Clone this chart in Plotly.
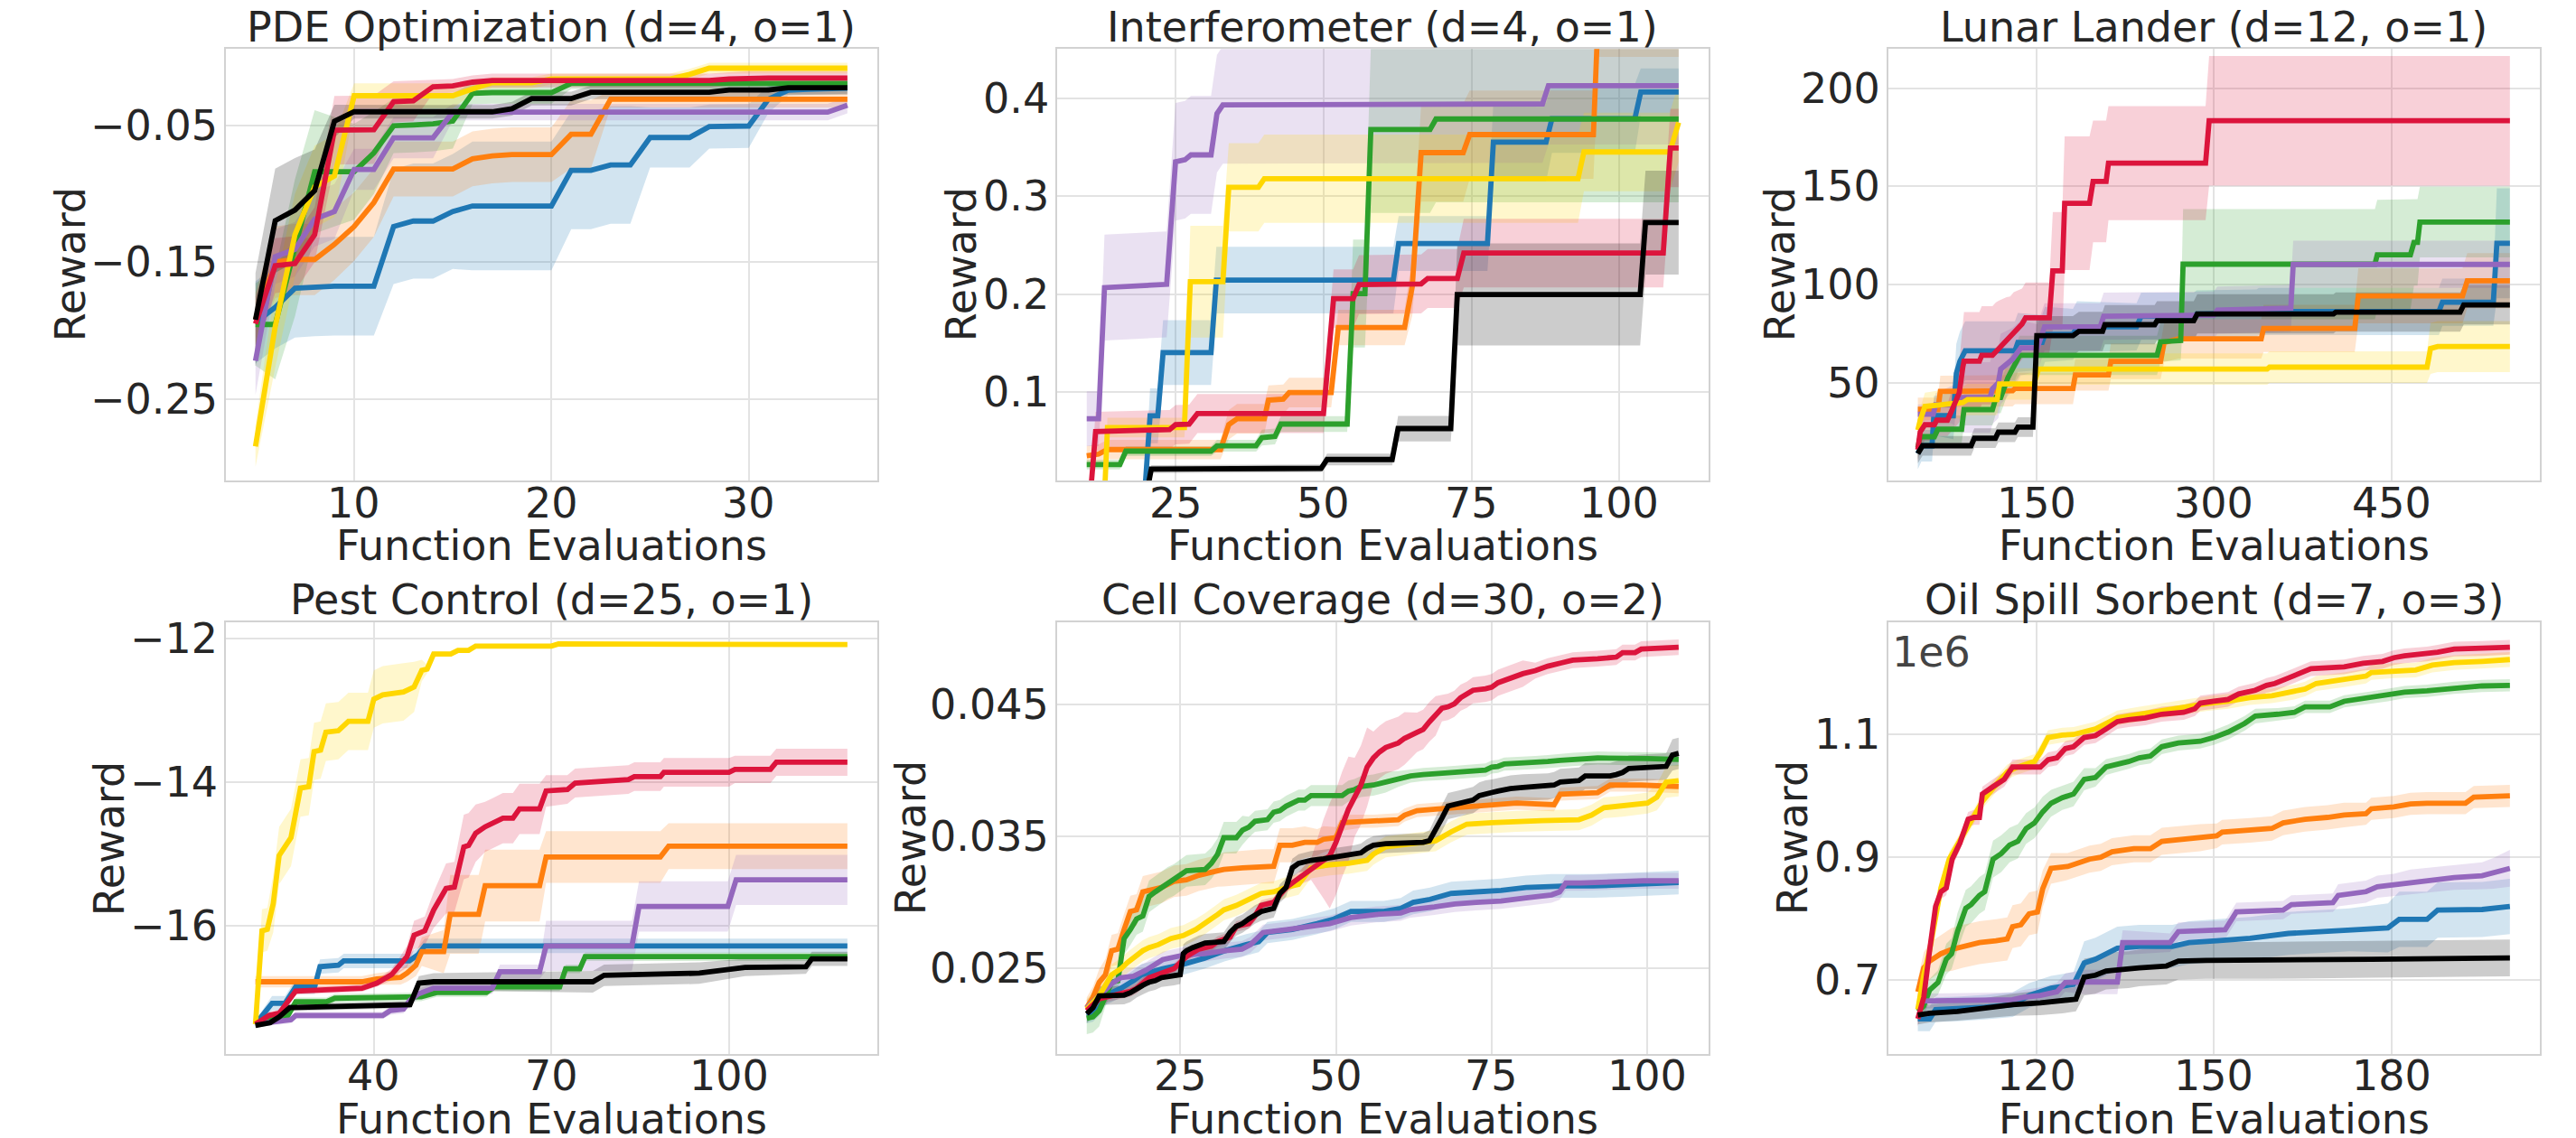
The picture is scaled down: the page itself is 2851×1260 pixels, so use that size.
import plotly.graph_objects as go

W, H = 2851, 1260
FONT = "DejaVu Sans"
TXT = "#262626"
FS = 46

COLORS = {
    "blue": "#1f77b4", "orange": "#ff7f0e", "green": "#2ca02c", "purple": "#9467bd",
    "yellow": "#FFD700", "red": "#DC143C", "black": "#000000",
}
ORDER = ["blue", "orange", "green", "purple", "yellow", "red", "black"]

TITLES = ["PDE Optimization (d=4, o=1)", "Interferometer (d=4, o=1)", "Lunar Lander (d=12, o=1)",
          "Pest Control (d=25, o=1)", "Cell Coverage (d=30, o=2)", "Oil Spill Sorbent (d=7, o=3)"]
XLABEL = "Function Evaluations"
YLABEL = "Reward"

# ---------------- PDE Optimization (x = 5..35) ----------------
PDE_X = list(range(5, 36))
PDE_BLUE = [-0.194, -0.183, -0.169, -0.168, -0.1675, -0.1675, -0.1675, -0.124, -0.120, -0.120, -0.113,
            -0.109, -0.109, -0.109, -0.109, -0.109, -0.083, -0.083, -0.079, -0.079, -0.059, -0.059,
            -0.059, -0.051, -0.051, -0.0506, -0.031, -0.0244, -0.0238, -0.0235, -0.023]
PDE_BLUE_ERR = [0.03, 0.03, 0.036, 0.036, 0.036, 0.036, 0.036, 0.042, 0.042, 0.042, 0.042, 0.047, 0.047,
                0.047, 0.047, 0.047, 0.043, 0.043, 0.043, 0.043, 0.022, 0.022, 0.022, 0.016, 0.016, 0.016,
                0.01, 0.004, 0.004, 0.004, 0.004]
PDE_ORANGE = [-0.192, -0.150, -0.148, -0.148, -0.137, -0.124, -0.1065, -0.082, -0.082, -0.082, -0.082,
              -0.0746, -0.0725, -0.0715, -0.0715, -0.0715, -0.0566, -0.0566] + [-0.031] * 13
PDE_ORANGE_ERR = [0.02, 0.026, 0.026, 0.026, 0.026, 0.025, 0.025, 0.02, 0.02, 0.02, 0.02, 0.02, 0.02,
                  0.02, 0.02, 0.02, 0.025, 0.025] + [0.006] * 13
PDE_GREEN = [-0.1955, -0.1955, -0.1395, -0.084, -0.084, -0.084, -0.0702, -0.0504, -0.0498, -0.049, -0.047,
             -0.0267, -0.0262, -0.0262, -0.0262, -0.0262] + [-0.0195] * 15
PDE_GREEN_ERR = [0.03, 0.04, 0.05, 0.045, 0.04, 0.035, 0.03, 0.02, 0.02, 0.02, 0.02, 0.008, 0.008, 0.008,
                 0.008, 0.008] + [0.004] * 15
PDE_PURPLE = [-0.222, -0.146, -0.1406, -0.1186, -0.113, -0.0823, -0.0823, -0.0592, -0.0592, -0.0592] \
    + [-0.0405] * 20 + [-0.0354]
PDE_PURPLE_ERR = [0.025, 0.02, 0.02, 0.02, 0.02, 0.015, 0.015, 0.015, 0.015, 0.015] + [0.006] * 21
PDE_YELLOW = [-0.2845, -0.197, -0.13, -0.095, -0.087, -0.0285, -0.0285, -0.0285, -0.0285, -0.0285, -0.0285,
              -0.0235, -0.019, -0.019, -0.019] + [-0.0163] * 7 + [-0.0129] + [-0.0084] * 8
PDE_YELLOW_ERR = [0.015, 0.03, 0.03, 0.03, 0.03] + [0.009] * 6 + [0.004] * 20
PDE_RED = [-0.195, -0.1526, -0.151, -0.13, -0.0537, -0.0533, -0.0533, -0.0329, -0.0322, -0.0219, -0.0213,
           -0.0186] + [-0.0174] * 12 + [-0.0163] + [-0.0155] * 6
PDE_RED_ERR = [0.02, 0.02, 0.02, 0.02, 0.025, 0.025, 0.025, 0.015, 0.015] + [0.005] * 22
PDE_BLACK = [-0.192, -0.1197, -0.112, -0.0977, -0.0471] + [-0.0402] * 8 + [-0.038] + [-0.0306] * 3 \
    + [-0.026] * 7 + [-0.0243] * 3 + [-0.0227] * 4
PDE_BLACK_ERR = [0.034, 0.038, 0.038, 0.03, 0.012] + [0.005] * 26

# ---------------- Interferometer: (x, mean, err) ----------------
INT_BLUE = [(10, -0.02, 0.003), (19.6, -0.02, 0.003), (20.7, 0.076, 0.028), (22, 0.076, 0.028),
            (22.9, 0.1404, 0.033), (31, 0.1404, 0.033), (31.9, 0.2144, 0.034), (61.8, 0.2144, 0.034),
            (62.7, 0.2517, 0.028), (77.7, 0.2517, 0.028), (78.7, 0.355, 0.04), (87.6, 0.355, 0.04),
            (88.6, 0.379, 0.035), (102.6, 0.379, 0.035), (103.6, 0.4061, 0.024), (110, 0.4061, 0.024)]
INT_ORANGE = [(10, 0.0352, 0.01), (12, 0.037, 0.01), (13.5, 0.0416, 0.01), (32.6, 0.0416, 0.01),
              (34, 0.067, 0.015), (35.4, 0.073, 0.015), (40, 0.073, 0.015), (40.7, 0.092, 0.015),
              (43.2, 0.093, 0.015), (44.2, 0.0997, 0.015), (51.3, 0.0997, 0.015), (52.5, 0.166, 0.018),
              (63.7, 0.166, 0.018), (65, 0.208, 0.03), (66.5, 0.3443, 0.05), (73.6, 0.3443, 0.05),
              (74.7, 0.3627, 0.045), (95.6, 0.3627, 0.045), (96.5, 0.5, 0.058), (110, 0.5, 0.058)]
INT_GREEN = [(10, 0.0263, 0.005), (15.6, 0.0263, 0.005), (16.6, 0.04, 0.005), (31, 0.04, 0.005),
             (32, 0.0455, 0.006), (38.6, 0.0455, 0.006), (39.6, 0.0538, 0.008), (41.8, 0.055, 0.008),
             (42.8, 0.0676, 0.008), (54, 0.0676, 0.008), (55, 0.2006, 0.055), (57, 0.2006, 0.055),
             (58, 0.3679, 0.085), (68, 0.3679, 0.085), (69, 0.3786, 0.085), (110, 0.3786, 0.085)]
INT_PURPLE = [(10, 0.0731, 0.028), (12, 0.0731, 0.028), (13, 0.2067, 0.054), (23.5, 0.21, 0.054),
              (25, 0.335, 0.06), (26.6, 0.337, 0.06), (27.6, 0.342, 0.06), (31, 0.342, 0.06),
              (32, 0.384, 0.06), (33, 0.393, 0.06), (87, 0.394, 0.06), (88, 0.4125, 0.06),
              (110, 0.4125, 0.06)]
INT_YELLOW = [(10, -0.02, 0.003), (12.9, -0.02, 0.003), (13.5, 0.064, 0.01), (26.5, 0.064, 0.01),
              (27.5, 0.2128, 0.057), (33, 0.2128, 0.057), (34, 0.309, 0.045), (39, 0.309, 0.045),
              (40, 0.3177, 0.045), (93, 0.3177, 0.045), (94, 0.345, 0.04), (108.5, 0.345, 0.04),
              (110, 0.375, 0.04)]
INT_RED = [(10, -0.05, 0.005), (11.5, 0.06, 0.02), (24, 0.062, 0.02), (25, 0.067, 0.02),
           (27.3, 0.0675, 0.02), (28.7, 0.0783, 0.02), (50, 0.0783, 0.02), (51.7, 0.1954, 0.03),
           (55, 0.1954, 0.03), (56, 0.2098, 0.03), (66.5, 0.2105, 0.03), (67.6, 0.216, 0.03),
           (72.6, 0.216, 0.03), (73.7, 0.2419, 0.035), (107.4, 0.2419, 0.035), (108.6, 0.349, 0.04),
           (110, 0.349, 0.04)]
INT_BLACK = [(10, -0.02, 0.003), (19.6, -0.02, 0.003), (20.9, 0.0217, 0.004), (49.6, 0.0225, 0.004),
             (50.6, 0.0315, 0.006), (61.6, 0.0315, 0.006), (62.6, 0.063, 0.013), (71.5, 0.063, 0.013),
             (72.6, 0.1997, 0.052), (103.5, 0.1997, 0.052), (104.4, 0.273, 0.053), (110, 0.273, 0.053)]

# ---------------- Lunar Lander: (x, mean, err) ----------------
LL_BLUE = [(50, 14, 8), (53, 18, 8), (62, 18, 8), (63.5, 33.3, 10), (80, 33.3, 12), (82.5, 54.8, 15),
           (85.5, 61, 15), (90, 66.3, 15), (132, 66.3, 15), (134.5, 70.6, 15), (155, 70.6, 14),
           (157.4, 74.7, 14), (181, 74.7, 13), (184.5, 78.5, 13), (234.7, 78.5, 12), (238.6, 83.9, 12),
           (283, 83.9, 12), (285.5, 85.1, 12), (336, 85.5, 12), (338, 86.3, 12), (490, 86.3, 12),
           (493, 91, 12), (536, 91, 12), (539, 121, 28), (550, 121, 28)]
LL_ORANGE = [(50, 36.5, 6), (67, 36.5, 6), (69, 45.6, 8), (130, 46, 8), (132, 47.1, 8), (181, 47.1, 8),
             (183, 54, 8), (211, 54, 8), (213, 60.9, 9), (255, 60.9, 9), (258, 70.5, 10), (270, 72.4, 10),
             (340, 72.4, 10), (342, 77.7, 12), (419, 77.7, 12), (422, 94.3, 14), (510, 94.3, 14),
             (514, 102, 14), (550, 102, 14)]
LL_GREEN = [(50, 17, 6), (52, 22.6, 6), (64, 22.6, 6), (67, 26.4, 7), (87, 26.4, 7), (89, 36.4, 8),
            (113, 36.4, 8), (116, 42.5, 8), (120, 42.5, 8), (126, 52.5, 8), (136, 64, 10), (252, 64, 10),
            (255, 70.9, 10), (272, 71.5, 10), (274, 110.4, 28), (436, 110.4, 28), (438, 115.2, 28),
            (466, 115.2, 28), (469, 121.5, 22), (472, 121.5, 22), (474, 131.8, 18), (550, 131.8, 18)]
LL_PURPLE = [(50, 34, 5), (63, 34, 5), (65, 38.8, 6), (80, 38.8, 10), (87, 42.5, 18), (111, 42.5, 18),
             (113, 47, 18), (118, 50, 18), (120, 57, 18), (130, 62, 16), (137, 67.8, 14), (151, 67.8, 12),
             (157, 78.5, 12), (204, 78.5, 12), (207, 83.9, 12), (300, 84.5, 12), (303, 87, 12),
             (365, 88, 12), (367, 110.3, 12), (550, 110.3, 12)]
LL_YELLOW = [(50, 26, 6), (52, 31, 6), (56, 38, 7), (88, 40, 8), (92, 41.5, 8), (117, 41.5, 8),
             (119, 49.4, 8), (148, 49.4, 8), (152, 57, 8), (345, 57, 8), (347, 58, 8), (480, 58, 8),
             (483, 67.5, 13), (489, 68.5, 13), (550, 68.5, 13)]
LL_RED = [(50, 16, 6), (52, 25, 8), (56, 28.7, 8), (64, 28.7, 8), (66, 31, 8), (75, 31, 8), (78, 35, 10),
          (85, 45, 15), (88, 58, 22), (89, 61, 25), (102, 61, 25), (104, 64, 25), (113, 64, 25),
          (116, 66, 25), (119, 68, 24), (125, 71.6, 22), (128, 74, 20), (131, 76.2, 20), (138, 80, 18),
          (141, 83.1, 18), (161, 83.1, 18), (164, 107, 30), (172, 107, 30), (174, 141.4, 34),
          (195, 141.4, 34), (198, 152.5, 31), (209, 152.5, 31), (211, 161.8, 29), (293, 161.8, 29),
          (296, 183.4, 33), (550, 183.4, 33)]
LL_BLACK = [(50, 14, 5), (54, 18, 5), (95, 18, 5), (97.7, 21.8, 5), (115.5, 21.8, 5), (118, 24.9, 5),
            (132, 24.9, 5), (134.5, 27.5, 5), (147.2, 27.5, 5), (150.5, 74, 10), (181, 74, 10),
            (186, 76.2, 10), (206, 76.2, 10), (208, 79.6, 10), (250, 79.6, 10), (252, 81.6, 10),
            (283, 81.6, 10), (286, 85.1, 10), (401, 85.1, 10), (403, 86, 10), (508, 86, 10),
            (511, 89.7, 10), (550, 89.7, 10)]

# ---------------- Pest Control: (x, mean, err) ----------------
PC_BLUE = [(20, -17.37, 0.05), (22.8, -17.08, 0.1), (25, -17.08, 0.1), (26.8, -16.85, 0.1), (30, -16.85, 0.1),
           (30.9, -16.57, 0.1), (34, -16.55, 0.1), (34.9, -16.49, 0.1), (46, -16.49, 0.1),
           (47.5, -16.4, 0.1), (48.6, -16.28, 0.1), (120, -16.28, 0.1)]
PC_ORANGE = [(20, -16.78, 0.08), (38, -16.78, 0.08), (40.5, -16.74, 0.08), (44.5, -16.72, 0.1),
             (45.6, -16.66, 0.12), (47.1, -16.55, 0.15), (48.1, -16.36, 0.2), (51.8, -16.36, 0.3),
             (52.9, -15.84, 0.55), (57.7, -15.84, 0.55), (58.8, -15.44, 0.5), (68, -15.44, 0.5),
             (69.1, -15.04, 0.36), (88.4, -15.04, 0.36), (89.8, -14.89, 0.32), (120, -14.89, 0.32)]
PC_GREEN = [(20, -17.37, 0.03), (23, -17.3, 0.05), (25.5, -17.25, 0.05), (26.8, -17.06, 0.06),
            (32, -17.06, 0.06), (33.4, -17.01, 0.06), (48, -16.99, 0.06), (50.6, -16.93, 0.06),
            (59, -16.93, 0.06), (60.3, -16.85, 0.06), (71.4, -16.85, 0.06), (72.4, -16.6, 0.06),
            (74.8, -16.6, 0.06), (75.7, -16.43, 0.06), (120, -16.43, 0.06)]
PC_PURPLE = [(20, -17.37, 0.04), (26, -17.31, 0.05), (26.8, -17.25, 0.05), (41.5, -17.25, 0.05),
             (42.8, -17.18, 0.06), (45, -17.16, 0.06), (46.1, -17.04, 0.07), (47.5, -16.95, 0.07),
             (50.1, -16.87, 0.08), (60, -16.87, 0.08), (61.3, -16.64, 0.1), (68, -16.64, 0.1),
             (69.1, -16.28, 0.35), (83.6, -16.28, 0.35), (84.8, -15.73, 0.35), (99.8, -15.73, 0.35),
             (101.2, -15.36, 0.35), (120, -15.36, 0.35)]
PC_YELLOW = [(20, -17.37, 0.02), (21.1, -16.07, 0.3), (22, -16.05, 0.3), (23, -15.69, 0.4), (24, -15.02, 0.4),
             (25, -14.9, 0.4), (26, -14.77, 0.4), (27.6, -14.08, 0.4), (29, -14.06, 0.4),
             (29.9, -13.57, 0.4), (31, -13.55, 0.4), (31.9, -13.3, 0.4), (34, -13.28, 0.4),
             (35.7, -13.15, 0.4), (39, -13.15, 0.4), (40, -12.84, 0.4), (41.5, -12.78, 0.4),
             (45, -12.74, 0.4), (46.8, -12.67, 0.35), (48.1, -12.44, 0.15), (49, -12.42, 0.06),
             (50.1, -12.21, 0.04), (53, -12.21, 0.03), (54.2, -12.16, 0.03), (56, -12.16, 0.03),
             (57.2, -12.1, 0.03), (70, -12.1, 0.03), (71.2, -12.07, 0.03), (120, -12.08, 0.03)]
PC_RED = [(20, -17.37, 0.03), (22.3, -17.25, 0.05), (24, -17.22, 0.05), (26.8, -16.91, 0.05),
          (38, -16.87, 0.05), (40.5, -16.8, 0.05), (43, -16.68, 0.08), (44.3, -16.55, 0.1),
          (45.6, -16.43, 0.15), (46.8, -16.13, 0.2), (48.6, -16.07, 0.2), (50.1, -15.78, 0.25),
          (52.2, -15.48, 0.35), (53.6, -15.46, 0.35), (55.2, -14.9, 0.45), (56, -14.88, 0.45),
          (57.2, -14.71, 0.4), (58.8, -14.62, 0.35), (60.3, -14.56, 0.35), (61.8, -14.5, 0.35),
          (63.5, -14.5, 0.35), (64.6, -14.37, 0.35), (68, -14.37, 0.35), (69.1, -14.12, 0.22),
          (72.7, -14.1, 0.2), (74, -14.01, 0.2), (83, -13.96, 0.2), (84, -13.92, 0.2),
          (88.4, -13.92, 0.2), (89, -13.86, 0.2), (100, -13.86, 0.2), (101, -13.82, 0.19),
          (107, -13.82, 0.19), (108, -13.72, 0.19), (120, -13.72, 0.19)]
PC_BLACK = [(20, -17.39, 0.03), (22.5, -17.35, 0.04), (24, -17.27, 0.05), (25.8, -17.14, 0.05),
            (46.1, -17.1, 0.05), (47.6, -16.8, 0.1), (50.1, -16.78, 0.12), (77, -16.78, 0.15),
            (78.9, -16.69, 0.15), (95, -16.66, 0.15), (102.7, -16.58, 0.12), (113, -16.57, 0.1),
            (114, -16.46, 0.1), (120, -16.46, 0.1)]

# ---------------- Cell Coverage: (x, mean, err) ----------------
CC_BLUE = [(10, 0.02138, 0.0006), (11, 0.0215, 0.0006), (12, 0.02196, 0.0006), (13, 0.02287, 0.0007),
           (14, 0.0231, 0.0007), (15.5, 0.02344, 0.0007), (17.5, 0.02402, 0.0008), (18.8, 0.02447, 0.0008),
           (22.2, 0.02493, 0.0008), (25.5, 0.02527, 0.0008), (28.9, 0.02573, 0.0008), (32.2, 0.0263, 0.0008),
           (35.6, 0.02676, 0.0008), (37.6, 0.02699, 0.0008), (39, 0.02768, 0.0008), (43, 0.02791, 0.0008),
           (47, 0.02836, 0.0008), (49.7, 0.02871, 0.0008), (52.4, 0.02928, 0.0008), (57.7, 0.02928, 0.0008),
           (60.4, 0.02951, 0.0008), (62.4, 0.02997, 0.0009), (65.1, 0.0302, 0.0009), (68.5, 0.03065, 0.0009),
           (72.5, 0.03077, 0.0009), (76.5, 0.03088, 0.0009), (80.5, 0.03111, 0.0009), (84.6, 0.03122, 0.0009),
           (87.2, 0.03122, 0.0009), (91.3, 0.03122, 0.0009), (96, 0.03129, 0.0009), (99.3, 0.03136, 0.0009),
           (105, 0.03148, 0.0009)]
CC_ORANGE = [(10, 0.02196, 0.0008), (11, 0.02276, 0.0008), (12, 0.0239, 0.001), (13, 0.02447, 0.0012),
             (14, 0.0263, 0.0012), (15, 0.02642, 0.0012), (16, 0.02791, 0.0012), (17, 0.02928, 0.0012),
             (18, 0.0294, 0.0012), (19, 0.03077, 0.0012), (22, 0.03111, 0.0012), (24, 0.03157, 0.0012),
             (26, 0.03168, 0.0012), (28, 0.03203, 0.0012), (31, 0.03237, 0.0012), (32, 0.03248, 0.0013),
             (35, 0.0326, 0.0013), (38, 0.03271, 0.0013), (40, 0.03271, 0.0013), (41, 0.03431, 0.0013),
             (43, 0.03431, 0.0013), (45, 0.03454, 0.0012), (47, 0.03454, 0.001), (48, 0.03477, 0.001),
             (50, 0.03489, 0.0008), (51, 0.03603, 0.0006), (54, 0.03614, 0.0005), (56, 0.03614, 0.0005),
             (60, 0.03626, 0.0005), (61, 0.0366, 0.0005), (63, 0.03695, 0.0005), (66, 0.03706, 0.0005),
             (69, 0.03717, 0.0005), (72, 0.03729, 0.0005), (76, 0.0374, 0.0005), (79, 0.03752, 0.0005),
             (85, 0.0374, 0.0005), (86, 0.0382, 0.0005), (92, 0.03832, 0.0005), (94, 0.03889, 0.0005),
             (99, 0.03889, 0.0005), (105, 0.03878, 0.0005)]
CC_GREEN = [(10, 0.02116, 0.0012), (11, 0.02127, 0.0012), (12, 0.02173, 0.0012), (13, 0.02287, 0.0008),
            (14, 0.0239, 0.0006), (15, 0.02402, 0.0008), (16, 0.02722, 0.0012), (17, 0.02791, 0.0012),
            (18, 0.02871, 0.0012), (19, 0.02894, 0.0012), (20, 0.03042, 0.0012), (21, 0.03077, 0.0012),
            (22, 0.03111, 0.0012), (23, 0.03145, 0.0012), (24, 0.03168, 0.0012), (25, 0.03203, 0.0012),
            (26, 0.03237, 0.0012), (29, 0.03248, 0.0012), (30, 0.03294, 0.0012), (31, 0.03363, 0.0012),
            (32, 0.03489, 0.0012), (34, 0.03489, 0.0012), (35, 0.03546, 0.0011), (36, 0.03569, 0.0008),
            (37, 0.03614, 0.0008), (39, 0.03626, 0.0008), (40, 0.03683, 0.0008), (41, 0.03695, 0.0008),
            (42, 0.03729, 0.0008), (44, 0.03775, 0.0008), (45, 0.03775, 0.0008), (46, 0.03809, 0.0008),
            (51, 0.03809, 0.0008), (52, 0.03843, 0.0008), (53, 0.03855, 0.0008), (54, 0.03878, 0.0008),
            (56, 0.03889, 0.0008), (58, 0.03912, 0.0008), (60, 0.03935, 0.0006), (62, 0.03958, 0.0005),
            (64, 0.03969, 0.0005), (68, 0.03981, 0.0005), (71, 0.03992, 0.0005), (72, 0.03999, 0.0005),
            (74, 0.04003, 0.0005), (75, 0.04026, 0.0005), (76, 0.04031, 0.0005), (77, 0.04049, 0.0005),
            (80, 0.04054, 0.0005), (82, 0.04061, 0.0005), (84, 0.04068, 0.0005), (86, 0.04077, 0.0005),
            (88, 0.04084, 0.0005), (92, 0.04095, 0.0005), (100, 0.0409, 0.0005), (105, 0.04084, 0.0005)]
CC_PURPLE = [(10, 0.02196, 0.0006), (11, 0.02241, 0.0006), (12, 0.02287, 0.0006), (14, 0.02379, 0.0006),
             (15.5, 0.02425, 0.0006), (17.5, 0.02436, 0.0006), (19.5, 0.02482, 0.0006), (22.2, 0.02562, 0.0006),
             (25.5, 0.02596, 0.0006), (28.9, 0.02608, 0.0006), (32.2, 0.0263, 0.0006), (34.9, 0.02642, 0.0006),
             (36.3, 0.02676, 0.0006), (38.3, 0.02768, 0.0006), (42.3, 0.02791, 0.0006), (45.7, 0.02814, 0.0006),
             (49, 0.02836, 0.0006), (52.4, 0.02882, 0.0006), (56.4, 0.02905, 0.0006), (60.4, 0.02917, 0.0006),
             (61.8, 0.0294, 0.0006), (65.8, 0.02962, 0.0006), (69.1, 0.02985, 0.0006), (72.5, 0.02997, 0.0006),
             (76.5, 0.03008, 0.0006), (80.5, 0.03031, 0.0006), (84.6, 0.03054, 0.0006), (85.9, 0.03077, 0.0006),
             (86.9, 0.03145, 0.0006), (89.3, 0.03145, 0.0006), (92.6, 0.03152, 0.0006), (96, 0.03157, 0.0006),
             (99.3, 0.03161, 0.0006), (105, 0.03161, 0.0006)]
CC_YELLOW = [(10, 0.02184, 0.0008), (12, 0.02287, 0.0008), (14, 0.02447, 0.0008), (15.5, 0.02493, 0.0008),
             (16.5, 0.02539, 0.0008), (19, 0.0263, 0.0008), (20, 0.02653, 0.0008), (21.5, 0.02676, 0.0008),
             (23.5, 0.02722, 0.0008), (25.5, 0.02745, 0.0008), (27.5, 0.02791, 0.0008), (29, 0.02836, 0.0008),
             (31, 0.02905, 0.0008), (32, 0.0294, 0.0008), (34, 0.02974, 0.0008), (36, 0.0302, 0.0008),
             (38, 0.03065, 0.0008), (40, 0.03077, 0.0008), (42, 0.03111, 0.0008), (44, 0.03134, 0.0008),
             (46, 0.0326, 0.0008), (49, 0.03283, 0.0008), (52, 0.03294, 0.0008), (55, 0.03317, 0.0008),
             (56, 0.03363, 0.0008), (58, 0.0342, 0.0008), (62, 0.03443, 0.0008), (66, 0.03466, 0.0008),
             (68.5, 0.03534, 0.0008), (71, 0.03592, 0.0008), (75, 0.03603, 0.0008), (79, 0.03614, 0.0008),
             (83, 0.03619, 0.0008), (89, 0.03626, 0.0008), (91, 0.0366, 0.0008), (93, 0.03717, 0.0008),
             (96, 0.03729, 0.0008), (100, 0.03752, 0.0008), (101.5, 0.03797, 0.001), (103, 0.03912, 0.0012),
             (105, 0.03923, 0.0012)]
CC_RED = [(10, 0.02173, 0.0004), (12, 0.02264, 0.0004), (15, 0.02299, 0.0004), (17, 0.02321, 0.0004),
          (18, 0.02344, 0.0004), (20, 0.02425, 0.0004), (24, 0.02493, 0.0004), (25, 0.02539, 0.0004),
          (26, 0.02585, 0.0004), (28, 0.02642, 0.0004), (30, 0.02665, 0.0004), (31, 0.02699, 0.0004),
          (33, 0.02733, 0.0004), (34, 0.02814, 0.0004), (36, 0.02836, 0.0004), (37, 0.02894, 0.0004),
          (38, 0.02974, 0.0004), (40, 0.02997, 0.0004), (42, 0.03111, 0.0004), (44, 0.0318, 0.0005),
          (46, 0.03248, 0.0008), (48, 0.03328, 0.003), (49, 0.03351, 0.004), (50, 0.03454, 0.004),
          (51, 0.03592, 0.004), (52, 0.03706, 0.004), (53, 0.03797, 0.003), (54, 0.03889, 0.003),
          (55, 0.04026, 0.003), (56, 0.04095, 0.002), (57, 0.04141, 0.002), (58, 0.04175, 0.002),
          (60, 0.04209, 0.002), (61, 0.04244, 0.002), (63, 0.0429, 0.0015), (64, 0.04312, 0.0015),
          (65, 0.0437, 0.0015), (66, 0.04415, 0.0015), (67, 0.04473, 0.001), (68, 0.04484, 0.001),
          (69, 0.04507, 0.001), (70, 0.04553, 0.001), (71, 0.04576, 0.001), (72, 0.0461, 0.001),
          (74, 0.04621, 0.001), (75, 0.04633, 0.001), (76, 0.04667, 0.001), (78, 0.04701, 0.001),
          (80, 0.04736, 0.001), (82, 0.04759, 0.0006), (84, 0.04793, 0.0006), (86, 0.04816, 0.0006),
          (88, 0.04839, 0.0006), (92, 0.0485, 0.0006), (95, 0.04862, 0.0006), (96, 0.04896, 0.0006),
          (98, 0.04896, 0.0006), (99, 0.04923, 0.0006), (102, 0.04932, 0.0006), (105, 0.04937, 0.0006)]
CC_BLACK = [(10, 0.0215, 0.0007), (11, 0.02196, 0.0007), (12, 0.02287, 0.0007), (16, 0.02292, 0.0007),
            (17, 0.0231, 0.0007), (18, 0.02344, 0.0007), (19, 0.02367, 0.0007), (20, 0.0239, 0.0007),
            (21, 0.02402, 0.0007), (22, 0.02425, 0.0007), (24, 0.02436, 0.0007), (25, 0.02447, 0.0007),
            (25.5, 0.02608, 0.0007), (26, 0.0263, 0.0007), (27, 0.02653, 0.0007), (28, 0.02676, 0.0007),
            (29, 0.02688, 0.0007), (32, 0.02699, 0.0007), (33, 0.02768, 0.0007), (34, 0.02814, 0.0007),
            (35, 0.02836, 0.0007), (36, 0.02871, 0.0007), (37, 0.02905, 0.0007), (38, 0.02928, 0.0007),
            (39, 0.0294, 0.0007), (40, 0.02951, 0.0007), (41, 0.03065, 0.0007), (42, 0.03111, 0.0007),
            (43, 0.0326, 0.0007), (44, 0.03294, 0.0007), (45, 0.03305, 0.0007), (46, 0.03317, 0.0007),
            (48, 0.03328, 0.0007), (50, 0.0334, 0.0007), (51, 0.03351, 0.0007), (53, 0.03363, 0.0007),
            (54, 0.03374, 0.0007), (55, 0.03408, 0.0007), (56, 0.03431, 0.0007), (58, 0.03443, 0.0007),
            (64, 0.03454, 0.0007), (65, 0.03466, 0.0008), (66, 0.03546, 0.001), (67, 0.03637, 0.001),
            (68, 0.03729, 0.001), (70, 0.03752, 0.001), (71, 0.03763, 0.001), (72, 0.03775, 0.001),
            (73, 0.03809, 0.001), (74, 0.03825, 0.001), (75, 0.03832, 0.001), (76, 0.03843, 0.001),
            (77, 0.03855, 0.001), (78, 0.03862, 0.001), (80, 0.03871, 0.001), (84, 0.03878, 0.001),
            (85, 0.03889, 0.001), (86, 0.03912, 0.001), (89, 0.03923, 0.001), (90, 0.03958, 0.001),
            (94, 0.03958, 0.001), (95, 0.03969, 0.001), (96, 0.03985, 0.001), (97, 0.04015, 0.001),
            (100, 0.04022, 0.001), (103, 0.04031, 0.001), (104, 0.04118, 0.0012), (105, 0.0413, 0.0012)]

# ---------------- Oil Spill Sorbent: (x, mean [1e6], err [1e6]) ----------------
OS_BLUE = [(100, 0.637, 0.02), (102, 0.637, 0.02), (103, 0.652, 0.02), (106.7, 0.653, 0.02),
           (111.3, 0.656, 0.02), (116, 0.66, 0.02), (118.8, 0.675, 0.02), (122.5, 0.687, 0.02),
           (126.3, 0.693, 0.02), (128.1, 0.728, 0.035), (130, 0.734, 0.035), (133.7, 0.752, 0.035),
           (137.4, 0.755, 0.035), (143, 0.755, 0.035), (145.8, 0.761, 0.035), (150.5, 0.764, 0.035),
           (156.1, 0.768, 0.035), (162.6, 0.776, 0.035), (167.3, 0.779, 0.035), (172.9, 0.782, 0.035),
           (179.4, 0.785, 0.04), (181.3, 0.799, 0.045), (186, 0.799, 0.045), (187.8, 0.814, 0.045),
           (195.3, 0.815, 0.045), (200, 0.82, 0.045)]
OS_ORANGE = [(100, 0.681, 0.02), (101, 0.72, 0.025), (102, 0.731, 0.03), (103.9, 0.743, 0.03),
             (105.7, 0.75, 0.035), (107.6, 0.755, 0.035), (110.4, 0.761, 0.035), (113.2, 0.764, 0.035),
             (115.1, 0.767, 0.035), (116, 0.787, 0.035), (117.4, 0.79, 0.035), (118.8, 0.808, 0.035),
             (120.2, 0.811, 0.035), (121.1, 0.849, 0.03), (122.5, 0.882, 0.025), (125.3, 0.885, 0.022),
             (127.2, 0.891, 0.022), (129, 0.897, 0.022), (130.9, 0.9, 0.022), (132.8, 0.909, 0.022),
             (136.5, 0.914, 0.022), (139.3, 0.914, 0.022), (141.2, 0.926, 0.022), (144.9, 0.929, 0.022),
             (147.7, 0.932, 0.022), (150.5, 0.935, 0.02), (151.4, 0.941, 0.02), (156.1, 0.944, 0.02),
             (159.8, 0.947, 0.02), (161.7, 0.956, 0.02), (165.4, 0.962, 0.02), (169.2, 0.965, 0.02),
             (172, 0.969, 0.02), (175.7, 0.971, 0.018), (176.6, 0.979, 0.018), (180.4, 0.982, 0.018),
             (183.2, 0.987, 0.018), (186, 0.988, 0.018), (192.5, 0.988, 0.018), (193.9, 0.998, 0.018),
             (200, 1.0, 0.018)]
OS_GREEN = [(100, 0.649, 0.015), (101, 0.658, 0.015), (102, 0.684, 0.018), (103.4, 0.696, 0.02),
            (104.8, 0.734, 0.025), (105.7, 0.743, 0.025), (106.7, 0.779, 0.03), (108.1, 0.817, 0.03),
            (109, 0.823, 0.03), (110.4, 0.838, 0.03), (111.3, 0.844, 0.03), (112.7, 0.897, 0.03),
            (114.1, 0.906, 0.03), (115.5, 0.92, 0.028), (116.9, 0.926, 0.028), (118.3, 0.947, 0.025),
            (119.7, 0.956, 0.025), (121.1, 0.974, 0.025), (122.5, 0.988, 0.022), (124.4, 0.997, 0.02),
            (126.3, 1.003, 0.02), (128.1, 1.027, 0.018), (130, 1.03, 0.015), (131.8, 1.047, 0.013),
            (135.6, 1.056, 0.012), (137.4, 1.062, 0.012), (139.3, 1.065, 0.012), (141.2, 1.08, 0.012),
            (144, 1.086, 0.012), (147.7, 1.089, 0.012), (150, 1.095, 0.012), (152.4, 1.104, 0.012),
            (155.2, 1.118, 0.012), (157, 1.13, 0.012), (160.8, 1.133, 0.01), (163.6, 1.136, 0.01),
            (165.4, 1.145, 0.01), (169.6, 1.145, 0.01), (172, 1.154, 0.01), (176.6, 1.16, 0.01),
            (179.4, 1.164, 0.01), (182.2, 1.169, 0.01), (186, 1.171, 0.01), (190.6, 1.176, 0.01),
            (195.3, 1.179, 0.01), (200, 1.18, 0.01)]
OS_PURPLE = [(100, 0.666, 0.012), (116, 0.668, 0.012), (117.9, 0.672, 0.012), (120.7, 0.675, 0.013),
             (123.5, 0.681, 0.015), (124.9, 0.696, 0.015), (128.1, 0.697, 0.02), (133.7, 0.697, 0.02),
             (134.6, 0.761, 0.02), (142.6, 0.761, 0.015), (144, 0.779, 0.015), (151.9, 0.782, 0.015),
             (153.8, 0.811, 0.015), (161.7, 0.814, 0.015), (163.1, 0.823, 0.015), (170.1, 0.826, 0.015),
             (171, 0.838, 0.018), (175.7, 0.844, 0.018), (177.6, 0.852, 0.018), (180.4, 0.855, 0.018),
             (183.2, 0.86, 0.02), (186.9, 0.864, 0.02), (190.6, 0.867, 0.02), (195.3, 0.87, 0.022),
             (197.2, 0.874, 0.025), (200, 0.882, 0.03)]
OS_YELLOW = [(100, 0.652, 0.012), (101, 0.708, 0.012), (102, 0.749, 0.012), (103, 0.808, 0.012),
             (103.9, 0.85, 0.012), (105.3, 0.897, 0.012), (106.7, 0.92, 0.012), (108.1, 0.944, 0.012),
             (109.5, 0.968, 0.012), (110.9, 0.991, 0.012), (113.2, 1.018, 0.012), (115.1, 1.039, 0.012),
             (116.9, 1.047, 0.012), (119.7, 1.056, 0.012), (120.7, 1.071, 0.012), (122, 1.095, 0.012),
             (124.4, 1.099, 0.012), (126.3, 1.1, 0.012), (130, 1.109, 0.012), (131.8, 1.118, 0.012),
             (133.7, 1.127, 0.012), (137.4, 1.133, 0.012), (141.2, 1.139, 0.012), (144.9, 1.145, 0.012),
             (148.7, 1.15, 0.012), (152.4, 1.154, 0.012), (156.1, 1.16, 0.012), (159.8, 1.163, 0.012),
             (163.6, 1.169, 0.012), (165.4, 1.174, 0.012), (167.3, 1.183, 0.012), (172, 1.189, 0.012),
             (175.7, 1.195, 0.012), (176.6, 1.201, 0.012), (180.4, 1.204, 0.012), (184.1, 1.205, 0.012),
             (186.9, 1.213, 0.012), (190.6, 1.217, 0.012), (195.3, 1.219, 0.012), (200, 1.222, 0.012)]
OS_RED = [(100, 0.637, 0.012), (101, 0.672, 0.012), (102, 0.749, 0.012), (103, 0.82, 0.012),
          (103.9, 0.844, 0.012), (104.8, 0.85, 0.012), (105.8, 0.897, 0.012), (107.1, 0.923, 0.012),
          (108.5, 0.962, 0.012), (109.5, 0.965, 0.012), (110.4, 0.965, 0.012), (110.9, 1.003, 0.012),
          (112.7, 1.015, 0.012), (114.6, 1.027, 0.012), (116, 1.047, 0.012), (120.7, 1.047, 0.012),
          (122, 1.059, 0.012), (123.5, 1.062, 0.012), (124.9, 1.077, 0.012), (126.3, 1.08, 0.012),
          (128.1, 1.095, 0.012), (130, 1.098, 0.012), (131.8, 1.109, 0.012), (133.7, 1.121, 0.012),
          (135.6, 1.124, 0.012), (138.4, 1.127, 0.012), (141.2, 1.133, 0.012), (144.9, 1.136, 0.012),
          (146.8, 1.142, 0.012), (147.7, 1.151, 0.012), (150, 1.154, 0.012), (152.4, 1.157, 0.012),
          (154.2, 1.166, 0.012), (157, 1.172, 0.012), (158.9, 1.18, 0.012), (160.3, 1.183, 0.012),
          (162.6, 1.192, 0.012), (164.5, 1.2, 0.012), (166.4, 1.207, 0.012), (172, 1.21, 0.012),
          (173.4, 1.213, 0.012), (175.2, 1.216, 0.012), (178.5, 1.219, 0.012), (180.4, 1.225, 0.012),
          (182.2, 1.228, 0.012), (186, 1.231, 0.012), (187.8, 1.234, 0.012), (190.6, 1.239, 0.012),
          (195.3, 1.24, 0.012), (200, 1.242, 0.012)]
OS_BLACK = [(100, 0.643, 0.015), (102, 0.646, 0.015), (106.7, 0.649, 0.015), (116, 0.66, 0.018),
            (120.7, 0.663, 0.02), (124.4, 0.666, 0.02), (126.7, 0.669, 0.02), (128.1, 0.705, 0.03),
            (130, 0.708, 0.03), (131.8, 0.715, 0.03), (135.6, 0.717, 0.03), (137.4, 0.72, 0.03),
            (142, 0.723, 0.03), (144, 0.731, 0.03), (148.6, 0.732, 0.03), (158, 0.732, 0.03),
            (176.6, 0.734, 0.03), (200, 0.736, 0.03)]

# ---------------- axis ticks / ranges ----------------
X_TICKS = [[10, 20, 30], [25, 50, 75, 100], [150, 300, 450],
           [40, 70, 100], [25, 50, 75, 100], [120, 150, 180]]
Y_TICKS = [[-0.25, -0.15, -0.05], [0.1, 0.2, 0.3, 0.4], [50, 100, 150, 200],
           [-16, -14, -12], [0.025, 0.035, 0.045], [0.7, 0.9, 1.1]]
Y_TICKTEXT = [["\u22120.25", "\u22120.15", "\u22120.05"], ["0.1", "0.2", "0.3", "0.4"],
              ["50", "100", "150", "200"], ["\u221216", "\u221214", "\u221212"],
              ["0.025", "0.035", "0.045"], ["0.7", "0.9", "1.1"]]
X_RANGES = [[3.5, 36.5], [5, 115], [25, 575], [15, 125], [5.25, 109.75], [95, 205]]
Y_RANGES = [[-0.3096, 0.00566], [0.0098, 0.45], [0.17, 219.95], [-17.79, -11.77],
            [0.01843, 0.05126], [0.5794, 1.2825]]
OFFSET_TEXT = "1e6"

# ---------------- layout geometry (pixels) ----------------
COL_PX = [(250, 970.6), (1170, 1890.6), (2089.8, 2810.6)]
ROW_PX = [(54.2, 532.3), (689.1, 1167.2)]
TITLE_Y = [30, 664]
XTICK_Y = [557, 1191]
XLAB_Y = [604, 1239]
YLAB_X = [78, 1064, 1970, 121, 1008, 1984]
YTICK_GAP = 7


def rgba(hexc, a):
    h = hexc.lstrip("#")
    r, g, b = int(h[0:2], 16), int(h[2:4], 16), int(h[4:6], 16)
    return f"rgba({r},{g},{b},{a})"


def triples(xs, ys, es):
    return list(zip(xs, ys, es))


PANELS = [
    {"blue": triples(PDE_X, PDE_BLUE, PDE_BLUE_ERR), "orange": triples(PDE_X, PDE_ORANGE, PDE_ORANGE_ERR),
     "green": triples(PDE_X, PDE_GREEN, PDE_GREEN_ERR), "purple": triples(PDE_X, PDE_PURPLE, PDE_PURPLE_ERR),
     "yellow": triples(PDE_X, PDE_YELLOW, PDE_YELLOW_ERR), "red": triples(PDE_X, PDE_RED, PDE_RED_ERR),
     "black": triples(PDE_X, PDE_BLACK, PDE_BLACK_ERR)},
    {"blue": INT_BLUE, "orange": INT_ORANGE, "green": INT_GREEN, "purple": INT_PURPLE,
     "yellow": INT_YELLOW, "red": INT_RED, "black": INT_BLACK},
    {"blue": LL_BLUE, "orange": LL_ORANGE, "green": LL_GREEN, "purple": LL_PURPLE,
     "yellow": LL_YELLOW, "red": LL_RED, "black": LL_BLACK},
    {"blue": PC_BLUE, "orange": PC_ORANGE, "green": PC_GREEN, "purple": PC_PURPLE,
     "yellow": PC_YELLOW, "red": PC_RED, "black": PC_BLACK},
    {"blue": CC_BLUE, "orange": CC_ORANGE, "green": CC_GREEN, "purple": CC_PURPLE,
     "yellow": CC_YELLOW, "red": CC_RED, "black": CC_BLACK},
    {"blue": OS_BLUE, "orange": OS_ORANGE, "green": OS_GREEN, "purple": OS_PURPLE,
     "yellow": OS_YELLOW, "red": OS_RED, "black": OS_BLACK},
]

fig = go.Figure()

for i, panel in enumerate(PANELS):
    sfx = "" if i == 0 else str(i + 1)
    xa, ya = "x" + sfx, "y" + sfx
    for name in ORDER:
        pts = panel[name]
        xs = [p[0] for p in pts]
        up = [p[1] + p[2] for p in pts]
        lo = [p[1] - p[2] for p in pts]
        fig.add_trace(go.Scatter(x=xs, y=up, mode="lines", line=dict(width=0), hoverinfo="skip",
                                 showlegend=False, xaxis=xa, yaxis=ya))
        fig.add_trace(go.Scatter(x=xs, y=lo, mode="lines", line=dict(width=0), fill="tonexty",
                                 fillcolor=rgba(COLORS[name], 0.2), hoverinfo="skip",
                                 showlegend=False, xaxis=xa, yaxis=ya))
    for name in ORDER:
        pts = panel[name]
        fig.add_trace(go.Scatter(x=[p[0] for p in pts], y=[p[1] for p in pts], mode="lines",
                                 line=dict(color=COLORS[name], width=5.8), name=name,
                                 showlegend=False, xaxis=xa, yaxis=ya))

layout = dict(width=W, height=H, margin=dict(l=0, r=0, t=0, b=0, pad=0, autoexpand=False),
              paper_bgcolor="white", plot_bgcolor="white", showlegend=False,
              font=dict(family=FONT, size=FS, color=TXT))
annotations = []
tfont = dict(family=FONT, size=FS, color=TXT)
for i in range(6):
    r, c = divmod(i, 3)
    sfx = "" if i == 0 else str(i + 1)
    x0, x1 = COL_PX[c]
    y0, y1 = ROW_PX[r]
    axis_common = dict(showgrid=True, gridcolor="#e3e3e3", gridwidth=1.6, zeroline=False,
                       showline=True, mirror=True, linecolor="#d2d2d2", linewidth=1.6, ticks="",
                       automargin=False, showticklabels=False)
    layout["xaxis" + sfx] = dict(axis_common, domain=[x0 / W, x1 / W], range=X_RANGES[i],
                                 tickvals=X_TICKS[i], anchor="y" + sfx)
    layout["yaxis" + sfx] = dict(axis_common, domain=[1 - y1 / H, 1 - y0 / H], range=Y_RANGES[i],
                                 tickvals=Y_TICKS[i], anchor="x" + sfx)
    # tick labels placed on the axes' own scales
    for v in X_TICKS[i]:
        annotations.append(dict(text=str(v), x=v, xref="x" + sfx, y=1 - XTICK_Y[r] / H, yref="paper",
                                xanchor="center", yanchor="middle", showarrow=False, font=tfont))
    for v, t in zip(Y_TICKS[i], Y_TICKTEXT[i]):
        annotations.append(dict(text=t, x=(x0 - YTICK_GAP) / W, xref="paper", y=v, yref="y" + sfx,
                                xanchor="right", yanchor="middle", showarrow=False, font=tfont))
    cx = (x0 + x1) / 2
    annotations.append(dict(text=TITLES[i], x=cx / W, y=1 - TITLE_Y[r] / H, xref="paper", yref="paper",
                            xanchor="center", yanchor="middle", showarrow=False, font=tfont))
    annotations.append(dict(text=XLABEL, x=cx / W, y=1 - XLAB_Y[r] / H, xref="paper", yref="paper",
                            xanchor="center", yanchor="middle", showarrow=False, font=tfont))
    annotations.append(dict(text=YLABEL, x=YLAB_X[i] / W, y=1 - ((y0 + y1) / 2) / H, xref="paper",
                            yref="paper", xanchor="center", yanchor="middle", textangle=-90,
                            showarrow=False, font=tfont))

annotations.append(dict(text=OFFSET_TEXT, x=2092 / W, y=1 - 722 / H, xref="paper", yref="paper",
                        xanchor="left", yanchor="middle", showarrow=False,
                        font=dict(family=FONT, size=FS, color="#444444")))
layout["annotations"] = annotations
fig.update_layout(**layout)
fig.write_html("out.html", config={"displayModeBar": False},
               post_script="document.body.style.margin='0px';document.body.style.padding='0px';")
